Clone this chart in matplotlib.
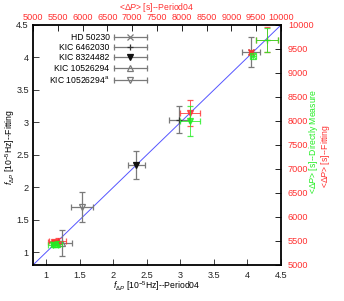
import matplotlib
matplotlib.use("Agg")
import matplotlib.pyplot as plt
from matplotlib.lines import Line2D
from matplotlib.legend_handler import HandlerBase

plt.rcParams['font.family'] = ['Liberation Sans', 'DejaVu Sans']
plt.rcParams['mathtext.fontset'] = 'custom'
plt.rcParams['mathtext.rm'] = 'Liberation Sans'
plt.rcParams['mathtext.it'] = 'Liberation Sans:italic'

# ---- data ----
stars = ["HD 50230", "KIC 6462030", "KIC 8324482", "KIC 10526294", "KIC 10526294$^{\\rm a}$"]
star_markers = ['x', '+', 'v', '^', 'v']
star_filled = [False, False, True, False, False]

# frequency (10^-5 Hz): Period04 (x) vs Fitting (y)
f_p04 = [4.05, 2.98, 2.34, 1.23, 1.53]
f_fit = [4.08, 3.04, 2.34, 1.14, 1.69]
f_p04_err = [0.13, 0.15, 0.13, 0.15, 0.16]
f_fit_err = [0.23, 0.21, 0.22, 0.20, 0.23]

# period spacing <dP> (s): Period04 (top x) vs Fitting (red) / Directly measured (green)
dp_p04_fit = [9395, 9718, 8165, 5494, 5420]
dp_fit = [9437, 9688, 8167, 5500, 5470]
dp_p04_fit_err = [50, 212, 200, 170, 110]
dp_fit_err = [50, 260, 280, 70, 60]

dp_p04_dm = [9435, 9718, 8165, 5480, 5410]
dp_dm = [9354, 9688, 8000, 5430, 5420]
dp_p04_dm_err = [60, 212, 200, 110, 100]
dp_dm_err = [60, 250, 310, 60, 50]

xlim = (0.8, 4.5)
ylim = (0.8, 4.5)
dplim = (5000, 10000)
f_ticks = [1, 1.5, 2, 2.5, 3, 3.5, 4, 4.5]
f_ticklabels = ['1', '1.5', '2', '2.5', '3', '3.5', '4', '4.5']
dp_ticks = [5000, 5500, 6000, 6500, 7000, 7500, 8000, 8500, 9000, 9500, 10000]

GRAY = '#7a7a7a'
RED = '#ff3030'
GREEN = '#22ee22'
FS = 6.6
LFS = 6.2

fig = plt.figure(figsize=(3.44, 3.01), dpi=100)
pos = [33/344, 1-265/301, (281-33)/344, (265-25)/301]
ax = fig.add_axes(pos)
ax2 = fig.add_axes(pos, frameon=False)
ax2.patch.set_alpha(0)

# diagonal
ax.plot(xlim, ylim, color='#5555ff', lw=0.7, zorder=1)

# frequency points
for i in range(len(stars)):
    mfc = '#111111' if star_filled[i] else 'none'
    mec = '#111111' if star_filled[i] else GRAY
    if star_markers[i] == '+':
        mec = '#333333'
    ax.errorbar(f_p04[i], f_fit[i], xerr=f_p04_err[i], yerr=f_fit_err[i],
                fmt=star_markers[i], color=GRAY, mfc=mfc, mec=mec, ms=5, mew=0.9,
                elinewidth=0.9, capsize=2, capthick=0.9, zorder=3)

# period spacing points
for i in range(len(stars)):
    ax2.errorbar(dp_p04_fit[i], dp_fit[i], xerr=dp_p04_fit_err[i], yerr=dp_fit_err[i],
                 fmt=star_markers[i], color=RED, mfc=RED, mec=RED, ms=5, mew=0.9,
                 elinewidth=0.7, capsize=2, capthick=0.7, alpha=0.8, zorder=4)
for i in range(len(stars)):
    ax2.errorbar(dp_p04_dm[i], dp_dm[i], xerr=dp_p04_dm_err[i], yerr=dp_dm_err[i],
                 fmt=star_markers[i], color=GREEN, mfc=GREEN, mec=GREEN, ms=5, mew=0.9,
                 elinewidth=0.7, capsize=2, capthick=0.7, alpha=0.8, zorder=5)

ax.set_xlim(*xlim)
ax.set_ylim(*ylim)
ax.set_xticks(f_ticks)
ax.set_xticklabels(f_ticklabels)
ax.set_yticks(f_ticks)
ax.set_yticklabels(f_ticklabels)
ax.tick_params(direction='in', length=4, width=0.6, labelsize=FS, pad=3, colors='#222222')
ax.tick_params(axis='x', pad=4)
for s in ax.spines.values():
    s.set_linewidth(1.3)

ax2.set_xlim(*dplim)
ax2.set_ylim(*dplim)
ax2.xaxis.tick_top()
ax2.yaxis.tick_right()
ax2.set_xticks(dp_ticks)
ax2.set_yticks(dp_ticks)
ax2.tick_params(direction='in', length=4, width=0.6, labelsize=FS, labelcolor=RED, pad=4)
ax2.tick_params(axis='x', pad=2)
ax2.tick_params(axis='y', pad=5)

fig.text(157/344, 1-286/301, r'$f_{\Delta P}$ [10$^{-5}$Hz]--Period04', fontsize=LFS,
         ha='center', va='center')
fig.text(10/344, 1-147/301, r'$f_{\Delta P}$ [10$^{-5}$Hz]--Fitting', fontsize=LFS,
         ha='center', va='center', rotation=90)
fig.text(157/344, 1-0.5/301, r'<$\Delta P$> [s]--Period04', fontsize=LFS, color=RED,
         ha='center', va='top')
fig.text(314/344, 1-141/301, r'<$\Delta P$> [s]--Directly Measure', color=GREEN,
         rotation=90, ha='center', va='center', fontsize=LFS)
fig.text(326/344, 1-156/301, r'<$\Delta P$> [s]--Fitting', color=RED,
         rotation=90, ha='center', va='center', fontsize=LFS)


class GnuHandler(HandlerBase):
    def create_artists(self, legend, orig_handle, xdescent, ydescent, width, height,
                       fontsize, trans):
        y = height / 2 - ydescent
        x0, x1 = -xdescent, width - xdescent
        line = Line2D([x0, x1], [y, y], color=GRAY, lw=0.9)
        caps = Line2D([x0, x1], [y, y], ls='none', marker='|', ms=4, mew=0.9, color=GRAY)
        mk = Line2D([(x0 + x1) / 2], [y], ls='none', marker=orig_handle.get_marker(),
                    mfc=orig_handle.get_markerfacecolor(), mec=orig_handle.get_markeredgecolor(),
                    ms=5, mew=0.9)
        for a in (line, caps, mk):
            a.set_transform(trans)
        return [line, caps, mk]


handles = []
for i in range(len(stars)):
    mfc = '#111111' if star_filled[i] else 'none'
    mec = '#111111' if star_filled[i] else GRAY
    if star_markers[i] == '+':
        mec = '#333333'
    handles.append(Line2D([], [], marker=star_markers[i], mfc=mfc, mec=mec, ls='none'))

leg = ax.legend(handles, stars, loc='upper left', bbox_to_anchor=(0.04, 0.99),
                frameon=False, markerfirst=False, fontsize=LFS, handlelength=3.8,
                handletextpad=0.5, labelspacing=0.12, borderaxespad=0.3,
                handler_map={Line2D: GnuHandler()})

fig.savefig('out.png', dpi=100)
